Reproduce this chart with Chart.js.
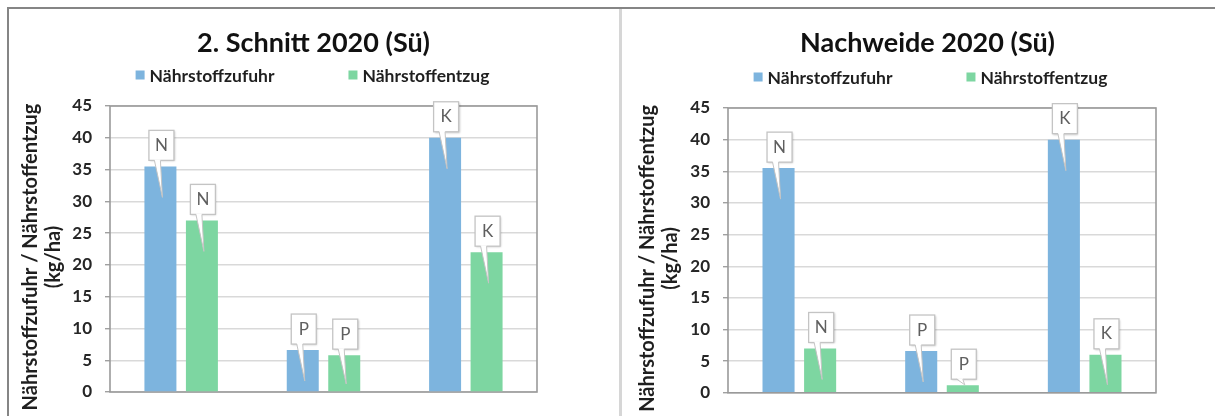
<!DOCTYPE html>
<html>
<head>
<meta charset="utf-8">
<title>Nährstoffbilanz 2020 (Sü)</title>
<script src="https://cdn.jsdelivr.net/npm/chart.js@4.4.1/dist/chart.umd.min.js"></script>
<style>
  html, body { margin: 0; padding: 0; background: #fff; overflow: hidden; width: 1215px; height: 416px; }
  .frame { position: absolute; left: 7px; top: 7px; right: 0; bottom: 0; border-top: 2px solid #858585; border-left: 2px solid #858585; }
  .divider { position: absolute; left: 619px; top: 9px; width: 3px; bottom: 0; background: #d6d6d6; }
  .panel { position: absolute; top: 10px; width: 609px; height: 406px; }
  #p1 { left: 9px; }
  #p2 { left: 623px; }
</style>
</head>
<body>
<div class="frame"></div>
<div class="divider"></div>
<div class="panel" id="p1"><canvas id="c1"></canvas></div>
<div class="panel" id="p2"><canvas id="c2"></canvas></div>
<script>
// Nutrients shown on the x axis (also printed in the callouts)
const nutrients = ['N', 'P', 'K'];
const seriesNames = ['Nährstoffzufuhr', 'Nährstoffentzug'];

// kg/ha, 2nd cut 2020
const schnittZufuhr = [35.5, 6.6, 40];
const schnittEntzug = [27, 5.8, 22];

// kg/ha, aftermath grazing 2020
const nachweideZufuhr = [35.5, 6.6, 40];
const nachweideEntzug = [7, 1.2, 6];

// y axis
const yMin = 0, yMax = 45, yStep = 5;
const yTitle = ['Nährstoffzufuhr / Nährstoffentzug', '(kg/ha)'];

const FONT = "Lato, 'Open Sans', 'DejaVu Sans', sans-serif";
const BLUE = '#7db4de';
const GREEN = '#7dd6a1';

Chart.defaults.font.family = FONT;
Chart.defaults.animation = false;

// grey frame around the plot area
const plotFrame = {
  id: 'plotFrame',
  beforeDatasetsDraw(chart) {
    const { ctx, chartArea: a } = chart;
    ctx.save();
    ctx.strokeStyle = '#9a9a9a';
    ctx.lineWidth = 1.6;
    ctx.strokeRect(a.left, a.top, a.right - a.left, a.bottom - a.top);
    ctx.restore();
  }
};

// rotated two-line title of the value axis
const valueAxisTitle = {
  id: 'valueAxisTitle',
  afterDraw(chart, args, opts) {
    const { ctx, chartArea: a } = chart;
    ctx.save();
    ctx.translate(opts.x, (a.top + a.bottom) / 2 + opts.dy);
    ctx.rotate(-Math.PI / 2);
    ctx.font = `bold ${opts.size}px ${FONT}`;
    ctx.fillStyle = '#1f1f1f';
    ctx.textAlign = 'center';
    ctx.textBaseline = 'middle';
    opts.text.forEach((line, i) => ctx.fillText(line, 0, i * opts.lineGap));
    ctx.restore();
  }
};

// single-row legend with wide spacing between entries
const rowLegend = {
  id: 'rowLegend',
  afterDraw(chart, args, opts) {
    const { ctx } = chart;
    ctx.save();
    ctx.font = `bold ${opts.size}px ${FONT}`;
    ctx.textBaseline = 'middle';
    ctx.textAlign = 'left';
    const box = 9, gap = 5;
    const items = chart.data.datasets.map(ds => ({
      text: ds.label, color: ds.backgroundColor, w: ctx.measureText(ds.label).width
    }));
    const total = items.reduce((s, it) => s + box + gap + it.w, 0) + opts.spacing * (items.length - 1);
    let x = chart.width / 2 - total / 2 + opts.shift;
    items.forEach(it => {
      ctx.fillStyle = it.color;
      ctx.fillRect(x, opts.y - box / 2, box, box);
      x += box + gap;
      ctx.fillStyle = '#1f1f1f';
      ctx.fillText(it.text, x, opts.y + 1);
      x += it.w + opts.spacing;
    });
    ctx.restore();
  }
};

// callout boxes naming the nutrient above each bar, with a pointer into the bar
const callouts = {
  id: 'callouts',
  afterDatasetsDraw(chart) {
    const { ctx } = chart;
    const base = chart.scales.y.getPixelForValue(0);
    const w = 25, h = 30;
    chart.data.datasets.forEach((ds, di) => {
      const meta = chart.getDatasetMeta(di);
      meta.data.forEach((bar, i) => {
        const text = chart.data.labels[i];
        const cx = bar.x + 1;
        const bottom = bar.y - 6;
        const top = bottom - h;
        const tipX = bar.x + 2;
        const tipY = Math.min(bar.y + 31, base - 8);
        ctx.save();
        // box
        ctx.shadowColor = 'rgba(0,0,0,0.22)';
        ctx.shadowBlur = 2;
        ctx.shadowOffsetX = 1;
        ctx.shadowOffsetY = 1;
        ctx.fillStyle = '#ffffff';
        ctx.fillRect(cx - w / 2, top, w, h);
        ctx.shadowColor = 'transparent';
        ctx.strokeStyle = '#c4c4c4';
        ctx.lineWidth = 1.3;
        ctx.strokeRect(cx - w / 2, top, w, h);
        // pointer
        const l = cx - 7, r = cx - 1;
        ctx.beginPath();
        ctx.moveTo(l, bottom - 1);
        ctx.lineTo(tipX, tipY);
        ctx.lineTo(r, bottom - 1);
        ctx.closePath();
        ctx.fillStyle = '#ffffff';
        ctx.fill();
        ctx.beginPath();
        ctx.moveTo(l, bottom);
        ctx.lineTo(tipX, tipY);
        ctx.lineTo(r, bottom);
        ctx.strokeStyle = '#c4c4c4';
        ctx.lineWidth = 1;
        ctx.stroke();
        // letter
        ctx.fillStyle = '#5f5f5f';
        ctx.font = `17px ${FONT}`;
        ctx.textAlign = 'center';
        ctx.textBaseline = 'middle';
        ctx.fillText(text, cx, top + h / 2);
        ctx.restore();
      });
    });
  }
};

function makeChart(id, title, zufuhr, entzug, g) {
  return new Chart(document.getElementById(id), {
    type: 'bar',
    data: {
      labels: nutrients,
      datasets: [
        { label: seriesNames[0], data: zufuhr, backgroundColor: BLUE, borderWidth: 0 },
        { label: seriesNames[1], data: entzug, backgroundColor: GREEN, borderWidth: 0 }
      ]
    },
    plugins: [plotFrame, rowLegend, valueAxisTitle, callouts],
    options: {
      responsive: true,
      maintainAspectRatio: false,
      animation: false,
      categoryPercentage: 0.583,
      barPercentage: 0.771,
      layout: { padding: { left: 0, right: 0, top: 0, bottom: g.padBottom } },
      plugins: {
        legend: { display: false },
        tooltip: { enabled: false },
        title: {
          display: true,
          text: title,
          color: '#111111',
          font: { size: 27, weight: 'bold', family: FONT, lineHeight: 1.2 },
          padding: { top: g.titleTop, bottom: g.titleBottom }
        },
        rowLegend: { y: g.legendY, size: 17.5, spacing: 74, shift: g.legendShift },
        valueAxisTitle: { text: yTitle, x: g.yTitleX, dy: 8, size: 20, lineGap: 23 }
      },
      scales: {
        x: {
          ticks: { display: false },
          grid: { display: false },
          border: { display: false },
          afterFit(s) { s.height = 0; }
        },
        y: {
          min: yMin,
          max: yMax,
          ticks: {
            stepSize: yStep,
            padding: 13,
            color: '#262626',
            font: { size: 17, weight: 'bold', family: FONT }
          },
          grid: { color: '#d9d9d9', lineWidth: 1.4, tickLength: 5, tickColor: '#a0a0a0' },
          border: { display: false },
          afterFit(s) { s.width = g.axisWidth; }
        },
        // empty spacer on the right side of the plot
        yRight: {
          position: 'right',
          display: true,
          min: yMin,
          max: yMax,
          ticks: { display: false },
          grid: { display: false, drawOnChartArea: false },
          border: { display: false },
          afterFit(s) { s.width = g.rightGap; }
        }
      }
    }
  });
}

makeChart('c1', '2. Schnitt 2020 (Sü)', schnittZufuhr, schnittEntzug, {
  axisWidth: 101, rightGap: 81, padBottom: 24,
  titleTop: 17, titleBottom: 46.6, legendY: 65, legendShift: -1, yTitleX: 22
});

makeChart('c2', 'Nachweide 2020 (Sü)', nachweideZufuhr, nachweideEntzug, {
  axisWidth: 105, rightGap: 76, padBottom: 22.5,
  titleTop: 17, titleBottom: 48.6, legendY: 67, legendShift: 3, yTitleX: 25
});
</script>
</body>
</html>
